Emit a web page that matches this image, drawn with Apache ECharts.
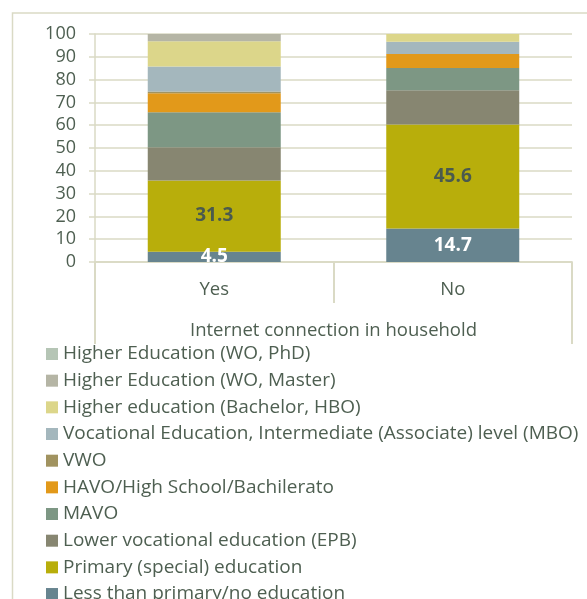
<!DOCTYPE html>
<html>
<head>
<meta charset="utf-8">
<script src="https://cdn.jsdelivr.net/npm/echarts@6/dist/echarts.min.js"></script>
<style>
  html, body { margin: 0; padding: 0; background: #fff; }
  #chart { width: 587px; height: 599px; }
</style>
</head>
<body>
<div id="chart"></div>
<script>
// categories
var groups = ['Yes', 'No'];
var outerTitle = ['Internet connection in household'];
var yTicks = [0, 100, 10];

// education levels, bottom of stack first
var levels = [
  'Less than primary/no education',
  'Primary (special) education',
  'Lower vocational education (EPB)',
  'MAVO',
  'HAVO/High School/Bachilerato',
  'VWO',
  'Vocational Education, Intermediate (Associate) level (MBO)',
  'Higher education (Bachelor, HBO)',
  'Higher Education (WO, Master)',
  'Higher Education (WO, PhD)'
];

// percentages per level, [Yes, No]
var lessPrimary = [4.5, 14.7];
var primary = [31.3, 45.6];
var lowerVoc = [14.5, 15.0];
var mavo = [15.4, 9.8];
var havo = [8.3, 6.1];
var vwo = [0.8, 0];
var mbo = [10.9, 5.4];
var bachelor = [11.1, 3.4];
var master = [3.2, 0];
var phd = [0, 0];

var values = [lessPrimary, primary, lowerVoc, mavo, havo, vwo, mbo, bachelor, master, phd];
var colors = ['#67848f', '#b8ae0b', '#878671', '#7d9784', '#e2991a', '#a19360', '#a4b7bd', '#dcd68a', '#b5b5a5', '#b5c5b5'];

var lineCol = '#dadac5';
var textCol = '#4e5f51';
var font = 'Open Sans';

var chart = echarts.init(document.getElementById('chart'));

var series = levels.map(function (name, i) {
  var s = {
    name: name,
    type: 'bar',
    stack: 'total',
    barWidth: 133,
    xAxisIndex: 0,
    data: values[i],
    itemStyle: { color: colors[i] },
    label: { show: false }
  };
  // only the two lowest levels carry value labels
  if (i < 2) {
    s.label = {
      show: true,
      position: 'inside',
      fontFamily: font,
      fontWeight: 'bold',
      fontSize: 19,
      color: i == 0 ? '#ffffff' : '#4a5a4e',
      formatter: function (p) { return p.value.toFixed(1); }
    };
  }
  return s;
});

var option = {
  animation: false,
  graphic: [{
    type: 'rect',
    shape: { x: 12.5, y: 13, width: 700, height: 700 },
    style: { fill: 'none', stroke: lineCol, lineWidth: 1.5 },
    silent: true
  }],
  grid: { left: 95, right: 15, top: 34, bottom: 337 },
  legend: {
    data: levels.slice().reverse(),
    orient: 'vertical',
    left: 46,
    top: 344.5,
    height: 400,
    padding: 0,
    icon: 'rect',
    itemWidth: 12,
    itemHeight: 12,
    itemGap: 7.67,
    selectedMode: false,
    textStyle: { fontFamily: font, fontSize: 19, lineHeight: 19, color: textCol }
  },
  xAxis: [{
    type: 'category',
    data: groups,
    axisLine: { lineStyle: { color: lineCol, width: 1.5 } },
    axisTick: { show: true, length: 41, lineStyle: { color: lineCol, width: 2 } },
    axisLabel: { margin: 18, fontFamily: font, fontSize: 18.5, color: textCol }
  }, {
    type: 'category',
    data: outerTitle,
    position: 'bottom',
    axisLine: { lineStyle: { color: lineCol, width: 1.5 } },
    axisTick: { show: true, length: 82, lineStyle: { color: lineCol, width: 2 } },
    axisLabel: { margin: 59, fontFamily: font, fontSize: 18.5, color: textCol }
  }],
  yAxis: {
    type: 'value',
    min: yTicks[0],
    max: yTicks[1],
    interval: yTicks[2],
    axisLine: { show: true, lineStyle: { color: lineCol, width: 1.5 } },
    axisTick: { show: true, length: 6, lineStyle: { color: lineCol, width: 1.5 } },
    splitLine: { lineStyle: { color: lineCol, width: 1.5 } },
    axisLabel: { margin: 19, fontFamily: font, fontSize: 18, color: textCol }
  },
  series: series
};

chart.setOption(option);
</script>
</body>
</html>
